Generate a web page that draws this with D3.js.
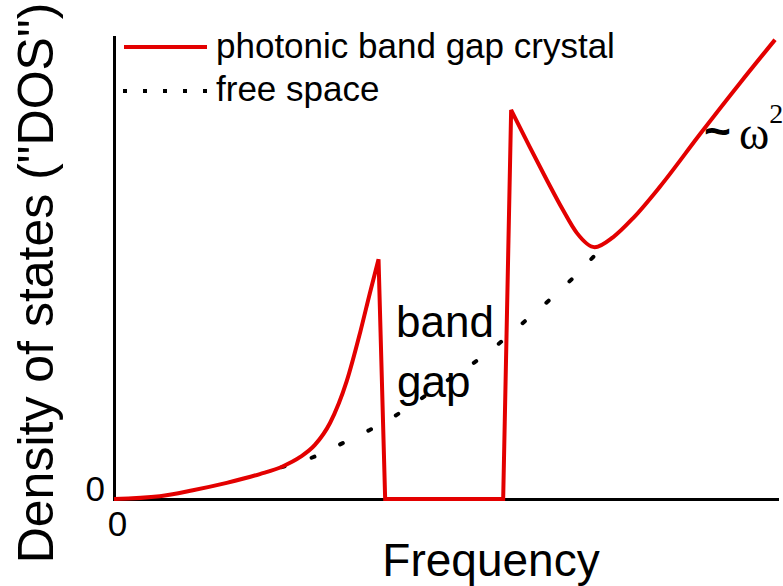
<!DOCTYPE html>
<html>
<head>
<meta charset="utf-8">
<script src="https://cdn.jsdelivr.net/npm/d3@7"></script>
<style>
  body { margin: 0; background: #fff; }
  svg { display: block; font-family: "Liberation Sans", Arial, sans-serif; }
</style>
</head>
<body>
<script>
// photonic crystal DOS, rising branch below the gap [frequency, dos]
var crystalLower = [[0, 0], [0.69, 0.06], [1.19, 0.19], [1.70, 0.35], [2.20, 0.54],
    [2.55, 0.71], [2.81, 0.91], [3.03, 1.17], [3.26, 1.65], [3.51, 2.55],
    [3.71, 3.59], [3.86, 4.46], [3.99, 5.19]];
// band edges: drop into the gap, flat zero, jump back up
var gapEdges = [[3.99, 5.19], [4.09, 0], [5.87, 0], [5.99, 8.42]];
// branch above the gap
var crystalUpper = [[5.99, 8.42], [6.27, 7.62], [6.53, 6.90], [6.77, 6.26], [6.98, 5.76],
    [7.25, 5.45], [7.53, 5.67], [7.83, 6.08], [8.24, 6.77], [8.84, 7.90],
    [9.44, 9.00], [9.97, 9.94]];
// free space DOS (dotted)
var freeSpace = [[2.53, 0.69], [3.08, 0.95], [3.45, 1.21], [3.85, 1.49], [4.24, 1.80],
    [4.62, 2.16], [4.99, 2.53], [5.38, 2.90], [5.76, 3.31], [6.15, 3.79],
    [6.53, 4.26], [6.92, 4.78], [7.30, 5.35]];

var xTicks = [0];
var yTicks = [0];
var legendLabels = ["photonic band gap crystal", "free space"];

var width = 783, height = 586;
var red = "#e30000";

var x = d3.scaleLinear().domain([0, 10]).range([114, 777]);
var y = d3.scaleLinear().domain([0, 10]).range([499, 37]);

var svg = d3.select("body").append("svg")
    .attr("width", width)
    .attr("height", height);

svg.append("rect").attr("width", width).attr("height", height).attr("fill", "#fff");

// axes
var yAxis = svg.append("g")
    .attr("transform", "translate(" + x(0) + ",0)")
    .call(d3.axisLeft(y).tickValues(yTicks).tickSize(0).tickSizeOuter(0).tickPadding(9)
        .tickFormat(d3.format("d")));
var xAxis = svg.append("g")
    .attr("transform", "translate(0," + y(0) + ")")
    .call(d3.axisBottom(x).tickValues(xTicks).tickSize(0).tickSizeOuter(0).tickPadding(12)
        .tickFormat(d3.format("d")));

svg.selectAll(".domain")
    .attr("stroke", "#000")
    .attr("stroke-width", 3)
    .attr("stroke-linecap", "square");
yAxis.selectAll("text")
    .attr("font-size", 35)
    .attr("font-family", "Liberation Sans, Arial, sans-serif")
    .attr("dy", "0.03em");
xAxis.selectAll("text")
    .attr("font-size", 35)
    .attr("font-family", "Liberation Sans, Arial, sans-serif")
    .attr("dx", 3);

// axis titles
svg.append("text")
    .attr("transform", "translate(53,283) rotate(-90)")
    .attr("text-anchor", "middle")
    .attr("font-size", 50)
    .text("Density of states (\"DOS\")");
svg.append("text")
    .attr("x", 491).attr("y", 576)
    .attr("text-anchor", "middle")
    .attr("font-size", 46)
    .text("Frequency");

// lines
var smooth = d3.line()
    .x(function (d) { return x(d[0]); })
    .y(function (d) { return y(d[1]); })
    .curve(d3.curveMonotoneX);
var straight = d3.line()
    .x(function (d) { return x(d[0]); })
    .y(function (d) { return y(d[1]); });

svg.append("path")
    .attr("d", smooth(freeSpace))
    .attr("fill", "none")
    .attr("stroke", "#000")
    .attr("stroke-width", 4)
    .attr("stroke-linecap", "round")
    .attr("stroke-dasharray", "3,28.4");

// join the three red pieces into one path so the peaks stay sharp
var redPath = smooth(crystalLower)
    + straight(gapEdges).replace("M", "L")
    + smooth(crystalUpper).replace("M", "L");
svg.append("path")
    .attr("d", redPath)
    .attr("fill", "none")
    .attr("stroke", red)
    .attr("stroke-width", 4)
    .attr("stroke-linejoin", "miter");

// band gap label
svg.append("text").attr("x", 396).attr("y", 337).attr("font-size", 44).text("band");
svg.append("text").attr("x", 397).attr("y", 397).attr("font-size", 44).text("gap");

// ~ omega^2 annotation
svg.append("text").attr("x", 704).attr("y", 147)
    .attr("font-size", 46).attr("font-weight", "bold").text("~");
var omega = svg.append("text").attr("x", 739).attr("y", 149)
    .attr("font-family", "Liberation Serif, Times New Roman, serif")
    .attr("font-size", 46);
omega.append("tspan").text("\u03c9");
omega.append("tspan").attr("dy", -26).attr("font-size", 28).text("2");

// legend
var legend = svg.append("g");
legend.append("line")
    .attr("x1", 124).attr("x2", 207).attr("y1", 47).attr("y2", 47)
    .attr("stroke", red).attr("stroke-width", 4);
legend.append("line")
    .attr("x1", 123).attr("x2", 207).attr("y1", 91).attr("y2", 91)
    .attr("stroke", "#000").attr("stroke-width", 4)
    .attr("stroke-dasharray", "4,16");
legend.selectAll(".label")
    .data(legendLabels)
    .enter().append("text")
    .attr("class", "label")
    .attr("x", 216)
    .attr("y", function (d, i) { return 58 + i * 43; })
    .attr("font-size", 35)
    .text(function (d) { return d; });
</script>
</body>
</html>
